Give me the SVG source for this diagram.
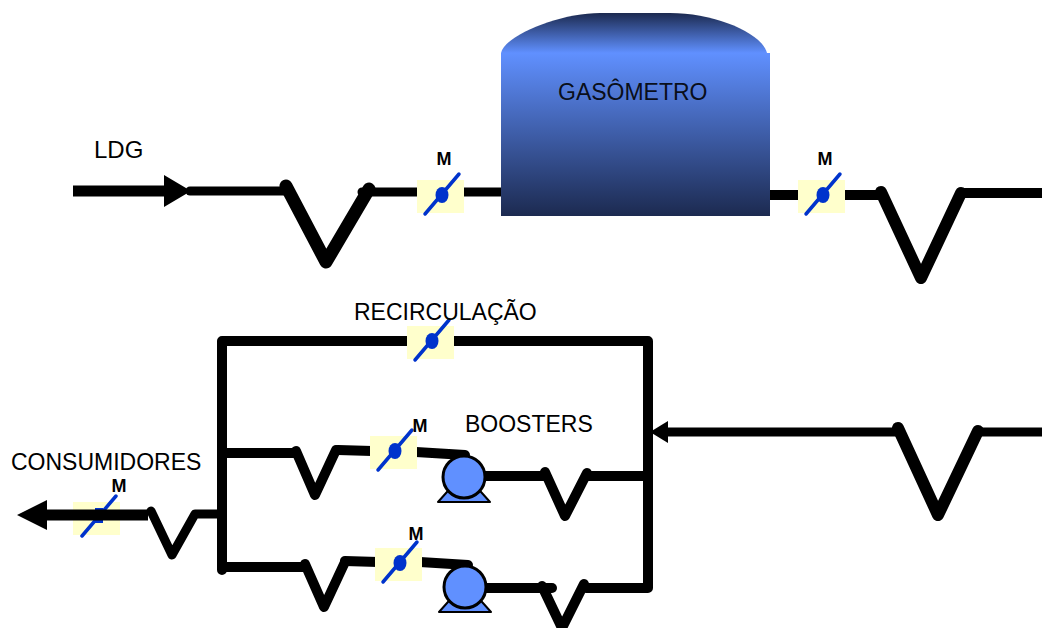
<svg xmlns="http://www.w3.org/2000/svg" width="1042" height="628" viewBox="0 0 1042 628">
<defs>
<linearGradient id="tankBody" x1="0" y1="0" x2="0" y2="1"><stop offset="0" stop-color="#6090ff"/><stop offset="1" stop-color="#1c2a50"/></linearGradient>
<linearGradient id="tankTop" x1="0" y1="0" x2="0" y2="1"><stop offset="0" stop-color="#1c2a50"/><stop offset="1" stop-color="#6090ff"/></linearGradient>
<g id="valve">
<rect x="-25" y="-15" width="47" height="33" fill="#ffffcc"/>
<line x1="-17" y1="19" x2="17" y2="-21" stroke="#0033cc" stroke-width="3.5" stroke-linecap="round"/>
<ellipse cx="0" cy="0" rx="6.5" ry="8" fill="#0033cc"/>
</g>
<g id="pump">
<path d="M-26 25L-9 6H9L26 25Z" fill="#6090ff" stroke="#000" stroke-width="2" stroke-linejoin="round"/>
<circle cx="0" cy="0" r="21" fill="#6090ff" stroke="#000" stroke-width="3"/>
</g>
</defs>
<style>
.p{fill:none;stroke:#000;stroke-linecap:round;stroke-linejoin:round}
.b{fill:none;stroke:#000;stroke-linecap:butt;stroke-linejoin:round}
.t{font-family:"Liberation Sans",Arial,sans-serif;fill:#000;font-size:23px}
.m{font-family:"Liberation Sans",Arial,sans-serif;fill:#000;font-size:18px;font-weight:bold;text-anchor:middle}
</style>
<rect width="1042" height="628" fill="#fff"/>
<g id="connectors">
<path class="b" stroke-width="11" d="M73 191H170"/>
<path d="M164 175L191 191L164 207Z" fill="#000"/>
<path class="p" stroke-width="9" d="M190 191H285"/>
<path class="p" stroke-width="13" d="M286 186L326 262L369 189"/>
<path class="p" stroke-width="9" d="M362 192H510"/>
<path class="b" stroke-width="10" d="M765 195H881"/>
<path class="p" stroke-width="12" d="M881 192L921 278L961 193"/>
<path class="b" stroke-width="10" d="M961 193H1042"/>
<path class="p" stroke-width="10" d="M222 570V341H410M453 341H648V588H586"/>
<path class="p" stroke-width="10" d="M222 453H296M338 450L372 451M416 452L465 455"/>
<path class="p" stroke-width="10" d="M296 451L315 495L336 450"/>
<path class="p" stroke-width="10" d="M485 476H545M587 476H648"/>
<path class="p" stroke-width="10" d="M545 472L565 516L587 473"/>
<path class="p" stroke-width="10" d="M222 567H305M345 561L378 562M420 562L468 565"/>
<path class="p" stroke-width="10" d="M305 564L324 607L345 562"/>
<path class="p" stroke-width="10" d="M485 588H552"/>
<path class="p" stroke-width="10" d="M542 586L562 628L584 584"/>
<path class="b" stroke-width="9" d="M660 432H900"/>
<path d="M668 421L650 432L668 443Z" fill="#000"/>
<path class="p" stroke-width="12" d="M898 428L938 515L978 431"/>
<path class="b" stroke-width="9" d="M978 432H1042"/>
<path class="p" stroke-width="9" d="M151 511L172 555L195 514H222"/>
</g>
<g id="gasometro">
<path d="M501 53C505 35 560 13 600 13H670C715 13 762 33 767 53H501Z" fill="url(#tankTop)"/>
<rect x="501" y="53" width="269" height="163" fill="url(#tankBody)"/>
<text class="t" x="558" y="100" fill-opacity=".9">GASÔMETRO</text>
</g>
<g id="valve-1"><use href="#valve" x="442" y="195"/><text class="m" x="444" y="165">M</text></g>
<g id="valve-2"><use href="#valve" x="823" y="195"/><text class="m" x="825" y="165">M</text></g>
<g id="valve-recirc"><use href="#valve" x="432" y="341"/></g>
<g id="valve-3"><use href="#valve" x="395" y="451"/><text class="m" x="420" y="432">M</text></g>
<g id="valve-4"><use href="#valve" x="400" y="563"/><text class="m" x="416" y="540">M</text></g>
<g id="valve-cons">
<rect x="73" y="502" width="47" height="33" fill="#ffffcc"/>
<line x1="82" y1="536" x2="116" y2="496" stroke="#0033cc" stroke-width="3.5" stroke-linecap="round"/>
<rect x="95" y="508" width="8" height="15" fill="#0033cc"/>
<path class="b" stroke-width="11" d="M45 515H148"/>
<path d="M47 500L17 515L47 530Z" fill="#000"/>
<text class="m" x="119" y="492">M</text>
</g>
<g id="pump-1"><use href="#pump" x="464" y="477"/></g>
<g id="pump-2"><use href="#pump" x="465" y="587"/></g>
<g id="labels">
<text class="t" x="94" y="158" style="font-size:24px">LDG</text>
<text class="t" x="354" y="320">RECIRCULAÇÃO</text>
<text class="t" x="465" y="432">BOOSTERS</text>
<text class="t" x="11" y="470">CONSUMIDORES</text>
</g>
</svg>
